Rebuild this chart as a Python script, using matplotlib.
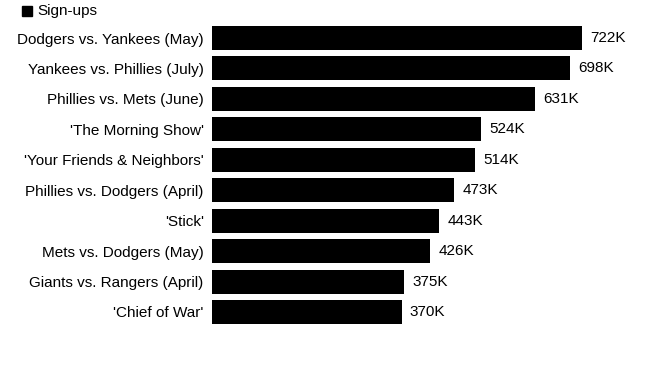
import matplotlib.pyplot as plt

plt.rcParams['font.family'] = ['Liberation Sans', 'DejaVu Sans']

# Data
labels = ["Dodgers vs. Yankees (May)", "Yankees vs. Phillies (July)",
          "Phillies vs. Mets (June)", "'The Morning Show'",
          "'Your Friends & Neighbors'", "Phillies vs. Dodgers (April)",
          "'Stick'", "Mets vs. Dodgers (May)", "Giants vs. Rangers (April)",
          "'Chief of War'"]
signups = [722, 698, 631, 524, 514, 473, 443, 426, 375, 370]

W, H = 668, 376
fig = plt.figure(figsize=(W / 100, H / 100), dpi=100)

# axes placed in pixels: bars start at x=212, 722K ends at x=582
ax_w = 400
xmax = 722 * ax_w / 370
top, bottom = 22.8, 327.2
ax = fig.add_axes([212 / W, 1 - bottom / H, ax_w / W, (bottom - top) / H])

y = range(len(labels))
ax.barh(y, signups, height=0.79, color='black')
ax.set_xlim(0, xmax)
ax.set_ylim(len(labels) - 0.5, -0.5)

for i, v in enumerate(signups):
    ax.annotate(f"{v}K", (v, i), xytext=(6, 0), textcoords='offset points',
                va='center', ha='left', fontsize=11)

ax.set_yticks(list(y))
ax.set_yticklabels(labels, fontsize=11)
ax.tick_params(axis='y', length=0, pad=6)
ax.set_xticks([])
for s in ax.spines.values():
    s.set_visible(False)

# legend
fig.patches.append(plt.Rectangle((22 / W, 1 - 15.5 / H), 10 / W, 10 / H,
                                 transform=fig.transFigure, color='black'))
fig.text(37 / W, 1 - 10.5 / H, "Sign-ups", fontsize=11, va='center', ha='left')

fig.savefig("out.png", dpi=100)
